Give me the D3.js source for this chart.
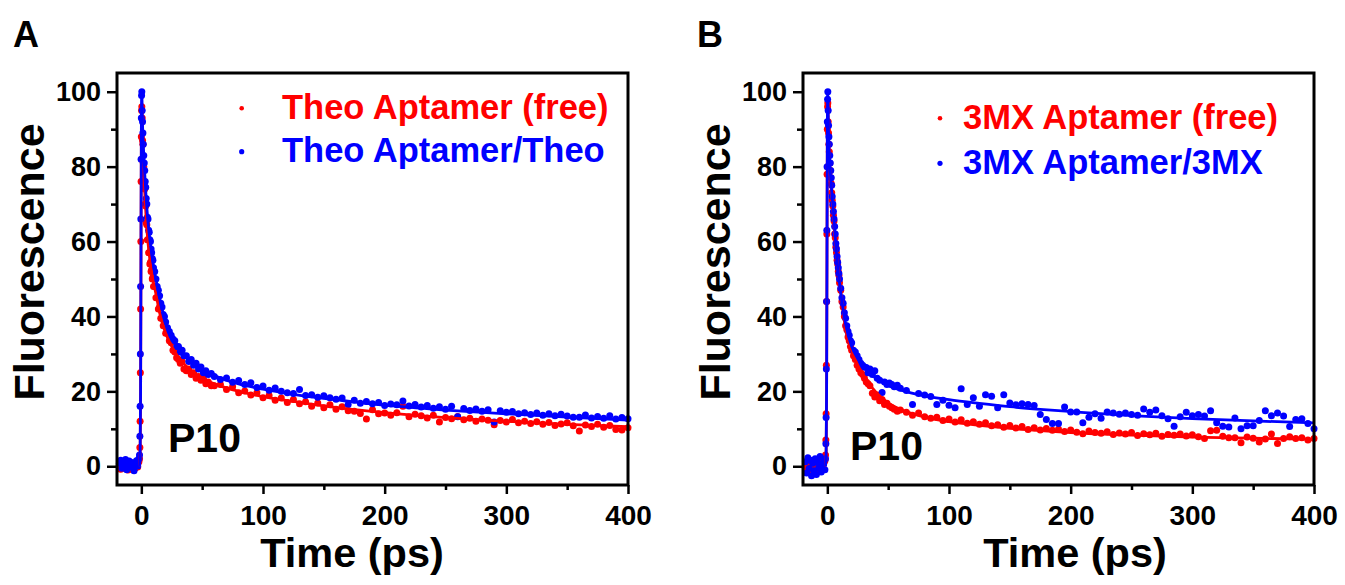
<!DOCTYPE html>
<html><head><meta charset="utf-8">
<script src="https://cdn.jsdelivr.net/npm/d3@7"></script>
<style>
html,body{margin:0;padding:0;background:#fff;}
svg{display:block;font-family:"Liberation Sans",Arial,sans-serif;font-weight:bold;}
</style></head>
<body>
<svg id="chart" width="1345" height="585"></svg>
<script>
// ---- shared time grid (ps) for measured points ----
const timePs = [
 -18,-17,-16,-15,-14,-13,-12,-11,-10,-9,-8,-7,-6,-5,-4,-3,-2,
 -1.5,-1.2,-1.0,-0.8,-0.6,-0.4,-0.2,0,0.2,0.4,
 0.7,1,1.3,1.6,2,2.4,2.8,3.2,3.6,4,
 4.5,5,5.5,6,6.5,7,7.5,8,8.5,9,
 9.5,10,11,12,13,14,15,16,17,18,
 19,20,21.5,23,24.5,26,27.5,29,30.5,32,
 33.5,35,37,39,41,43,45,47,49,51,
 53,55,57.5,60,65,70,75,80,85,90,
 95,100,105,110,115,120,125,130,135,140,
 145,150,155,160,165,170,175,180,185,190,
 195,200,205,210,215,220,225,230,235,240,
 245,250,255,260,265,270,275,280,285,290,
 295,300,305,310,315,320,325,330,335,340,
 345,350,355,360,365,370,375,380,385,390,
 395,400
];
// Panel A: Theo Aptamer (free)
const theoFree = [
 0.3,-0.8,0.5,-0.4,0.9,-0.6,0.2,-1.0,0.4,-0.3,0.7,-0.9,0.1,-0.5,0.6,-0.2,1.2,
 2,5,12,25,42,60,76,88,95,96,
 93,87,86,81,80,75,74,70,69.5,65,
 64.5,60.5,60.5,57,57,54,54.5,52,52.5,50,
 50.5,48,48,45,45,42,42.5,39.5,39.5,37.5,
 37.5,35.5,35.5,33.5,33,31,30.5,29,28.5,27.5,
 28,26,25.5,26,24.5,25,23.5,24,23,23.5,
 22,22.5,21.5,21.5,21.8,20.5,21.2,19.6,20.1,19.0,
 19.6,18.3,18.9,17.6,18.2,17.0,17.8,16.7,17.2,16.0,
 16.9,15.6,16.4,15.2,15.9,14.8,14.7,14.1,12.6,15.1,
 14.0,14.2,13.6,14.3,16.0,13.2,13.9,13.5,12.9,13.6,
 11.8,13.0,12.7,13.3,12.4,12.8,12.0,12.6,12.3,11.1,
 12.2,11.8,12.5,11.6,12.0,11.4,11.9,11.2,11.7,10.9,
 11.3,11.6,10.8,9.4,11.0,10.6,11.2,10.4,10.9,9.8,
 9.7,10.3
];
// Panel A: Theo Aptamer/Theo
const theoBound = [
 0.8,1.6,-0.5,1.2,0.2,1.8,-0.9,0.6,1.4,-0.2,1.0,0.3,-1.2,0.9,1.5,0.1,2.0,
 3,8,16,30,48,66,82,93,99,100,
 95,92,89,86,83,81,79,76,74.5,71.5,
 70,66.5,66,63,62.5,60.5,60,58,57,55.5,
 55,53,52,50,48,47,45.5,43.5,42.5,40.5,
 40,38.5,37,36,35,34,33.5,32,32,30.5,
 31,29.5,29.5,28,28.5,27,27.5,26,26.5,25,
 25.5,24.5,24.8,24,23.2,23.6,22.4,22.9,21.8,22.3,
 21.0,21.4,20.3,20.9,20.0,19.6,19.4,20.5,18.9,19.1,
 18.4,18.8,18.3,17.9,18.2,16.5,17.6,16.8,17.3,16.7,
 17.0,16.2,16.6,16.4,17.4,16.1,16.5,15.8,16.2,15.5,
 15.9,15.2,16.0,13.2,15.4,14.9,15.3,14.7,15.1,11.8,
 14.8,14.4,14.6,14.0,14.3,13.8,14.2,13.6,14.0,13.5,
 13.9,13.4,13.1,13.1,13.7,12.9,13.3,12.8,13.5,12.6,
 13.0,12.7
];
// Panel B: 3MX Aptamer (free)
const mxFree = [
 -0.5,0.8,-1.2,0.4,-0.3,1.0,-0.8,0.2,-1.5,0.6,-0.4,1.2,-0.9,0.3,-0.2,0.9,1.5,
 3,7,14,27,44,62,78,90,96,97,
 92,89,86,84,81,79,77,75.5,73,71,
 69.5,67,65.5,62,61,58.5,57,55,54,52,
 51,49,47,44,42.5,40,37.5,36.5,34.5,33.5,
 32,31,29.5,28.5,27,26,25,24.5,23.5,22.5,
 22,21.5,19.5,18.5,19,17.5,17.8,16.5,16.8,16,
 15.6,15.2,14.7,15,14.4,13.6,14.2,13.2,12.8,13.1,
 12.2,12.6,11.8,12.4,11.5,11.9,11.2,11.6,10.8,11.1,
 10.4,10.9,10.2,10.6,9.8,10.3,9.7,10.1,9.6,9.9,
 9.3,9.7,9.1,8.7,9.4,9.0,8.8,9.2,8.5,8.9,
 8.6,9.0,8.2,8.7,8.4,8.8,8.0,8.5,8.3,8.6,
 8.1,8.4,7.9,7.4,9.5,9.6,8.0,7.6,7.6,6.3,
 7.8,7.5,6.5,7.3,8.6,6.1,7.4,7.9,7.4,7.6,
 7.0,7.4
];
// Panel B: 3MX Aptamer/3MX
const mxBound = [
 1.2,-1.8,2.3,-0.6,1.6,-2.5,0.8,-1.2,2.0,-2.2,1.1,-0.4,2.6,-1.5,0.5,1.9,-0.9,
 2,6,13,26,44,63,80,92,98,100,
 95,91,88,86,83,81,79,77,75,72,
 70,68,66,64,62,59.5,58,56,54.5,53,
 51.5,50,47.5,45,43.5,41,39.5,37.5,36,35,
 33.5,33,31,30.5,29.5,28.5,27.5,27,26.5,26.4,
 25,26,24.5,25.5,23.5,23,19.7,22.5,21.8,22.2,
 21.8,21.2,21.6,20.8,20.2,16.5,19.4,19,18.6,16.5,
 17.6,16.3,15.6,20.7,16.5,18.3,16,19.1,18.7,15.6,
 19.1,16.9,16.4,16.7,16.5,16.2,13.8,12.5,11.4,11.4,
 15.8,14.5,14.5,11.6,13.1,14,12.8,14.5,14.2,13.9,
 14.2,13.8,13.6,15.3,14.4,15,13.5,12.7,10.7,13.2,
 14.4,13.5,13.8,13.4,14.8,11.6,10.7,10.5,12.9,10,
 10.8,10.8,12.2,14.8,13.5,14.2,13.4,10.6,12.5,12.7,
 11.4,10
];
// ---- fitted curves ----
const fitTime = [-1.5,-1,-0.6,-0.3,0,0.3,1,2,3,4,5,6,8,10,12,15,20,25,30,40,50,60,80,100,125,150,175,200,250,300,350,400];
const theoFreeFit  = [0,3,20,55,85,96,88,79,72,66,61.5,58,53,49,46,41,35.5,32,29.3,25.8,23.5,22,20,18.6,17.3,16.1,15.1,14.3,13,12,11.2,10.6];
const theoBoundFit = [0,3,20,55,88,100,91,83,77,71.5,67,63.5,58,53.5,50,45,38.5,34.5,31.8,28,25.8,24.2,22,20.6,19.2,18.1,17.2,16.3,15,14,13.1,12.3];
const mxFreeFit    = [0,3,20,55,88,97,88,80,75,71,67,62,55,49,44,36.5,31,27,24,19.8,16.9,15.2,13.1,11.9,10.9,10.1,9.5,9.0,8.3,7.8,7.5,7.2];
const mxBoundFit   = [0,3,20,55,88,100,89,81,76,72,68,63.5,55,49,44,38,32,28.8,26.6,23.5,21.6,20.4,18.8,17.8,16.8,15.9,15.2,14.6,13.5,12.7,12.1,11.6];

const yTicks = [0,20,40,60,80,100];
const yMinor = [10,30,50,70,90];
const xTicks = [0,100,200,300,400];
const xMinor = [50,150,250,350];

const RED = "#ff0000", BLUE = "#0000ff";
const panels = [
  {letter:"A", left:117, right:628, letterX:13, yTitleX:44, xTitleX:352,
   legendDotX:241.7, legendTextX:282, legendY:[108.3,151.7], p10:[168,452],
   series:[{name:"Theo Aptamer (free)", color:RED, pts:theoFree, fit:theoFreeFit},
           {name:"Theo Aptamer/Theo", color:BLUE, pts:theoBound, fit:theoBoundFit}]},
  {letter:"B", left:803, right:1314, letterX:697, yTitleX:730, xTitleX:1075,
   legendDotX:940, legendTextX:963, legendY:[118.3,163.3], p10:[850,460],
   series:[{name:"3MX Aptamer (free)", color:RED, pts:mxFree, fit:mxFreeFit},
           {name:"3MX Aptamer/3MX", color:BLUE, pts:mxBound, fit:mxBoundFit}]}
];
const plotTop = 73, plotBottom = 485;
const svg = d3.select("#chart");

panels.forEach(p => {
  const x = d3.scaleLinear().domain([-20,400]).range([p.left,p.right]);
  const y = d3.scaleLinear().domain([-5,105]).range([plotBottom,plotTop]);
  const g = svg.append("g");

  // data points
  p.series.forEach(s => {
    g.append("g").selectAll("circle").data(timePs.map((t,i)=>[t,s.pts[i]]))
      .join("circle").attr("cx",d=>x(d[0])).attr("cy",d=>y(d[1])).attr("r",3.5).attr("fill",s.color);
  });
  // fit lines
  p.series.forEach(s => {
    const line = d3.line().x(d=>x(d[0])).y(d=>y(d[1])).curve(d3.curveMonotoneX);
    g.append("path").datum(fitTime.map((t,i)=>[t,s.fit[i]]))
      .attr("d",line).attr("fill","none").attr("stroke",s.color).attr("stroke-width",2.8);
  });

  // axes
  const fs = sel => sel.selectAll("text").attr("font-size","27px").attr("font-weight","bold")
      .attr("font-family","'Liberation Sans',Arial,sans-serif").attr("fill","#000");
  const yAx = g.append("g").attr("transform",`translate(${p.left},0)`)
    .call(d3.axisLeft(y).tickValues(yTicks).tickSize(10).tickPadding(6).tickFormat(d3.format("d")));
  fs(yAx);
  const yAxm = g.append("g").attr("transform",`translate(${p.left},0)`)
    .call(d3.axisLeft(y).tickValues(yMinor).tickSize(6).tickFormat(""));
  const xAx = g.append("g").attr("transform",`translate(0,${plotBottom})`)
    .call(d3.axisBottom(x).tickValues(xTicks).tickSize(9).tickPadding(11).tickFormat(d3.format("d")));
  fs(xAx);
  xAx.selectAll("text").attr("font-size","28px");
  const xAxm = g.append("g").attr("transform",`translate(0,${plotBottom})`)
    .call(d3.axisBottom(x).tickValues(xMinor).tickSize(5).tickFormat(""));
  [yAx,yAxm,xAx,xAxm].forEach(a=>{a.select(".domain").remove();a.selectAll("line").attr("stroke","#000").attr("stroke-width",2.5);});

  // frame
  g.append("rect").attr("x",p.left).attr("y",plotTop).attr("width",p.right-p.left).attr("height",plotBottom-plotTop)
    .attr("fill","none").attr("stroke","#000").attr("stroke-width",3);

  // titles
  g.append("text").attr("x",p.xTitleX).attr("y",567).attr("text-anchor","middle")
    .attr("font-size","41.5px").text("Time (ps)");
  g.append("text").attr("transform",`translate(${p.yTitleX},262) rotate(-90)`).attr("text-anchor","middle")
    .attr("font-size","43px").text("Fluorescence");
  g.append("text").attr("x",p.letterX).attr("y",47).attr("font-size","36px").text(p.letter);
  g.append("text").attr("x",p.p10[0]).attr("y",p.p10[1]).attr("font-size","41px").text("P10");

  // legend
  p.series.forEach((s,i)=>{
    g.append("circle").attr("cx",p.legendDotX).attr("cy",p.legendY[i]).attr("r",i?2.6:2.3).attr("fill",s.color);
    g.append("text").attr("x",p.legendTextX).attr("y",p.legendY[i]+10.5).attr("font-size","34.5px")
      .attr("fill",s.color).text(s.name);
  });
});
</script>
</body></html>
